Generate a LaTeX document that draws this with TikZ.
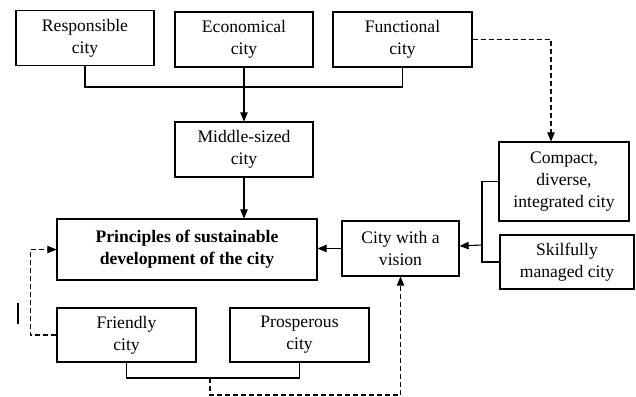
\documentclass[tikz,border=0pt]{standalone}
\usepackage{fontspec}
\setmainfont{Liberation Serif}
\usetikzlibrary{arrows}

\begin{document}
\begin{tikzpicture}[x=1pt,y=-1pt,line width=1.1pt,>=triangle 45]
\tikzstyle{every node}=[align=center, inner sep=1pt, font=\fontsize{17.6}{22}\selectfont]
\tikzstyle{box}=[draw, minimum width=138pt, minimum height=55pt]
\tikzstyle{dashline}=[dash pattern=on 5pt off 3pt]
\useasboundingbox (0,0) rectangle (636,396);
\draw (85,38) node (resp) [box] {Responsible\\city};
\draw (244,39.5) node (econ) [box] {Economical\\city};
\draw (402.5,39.5) node (func) [box,minimum width=139pt] {Functional\\city};
\draw (244,149.5) node (mid) [box] {Middle-sized\\city};
\draw (187,249.5) node (princ) [box,minimum width=260pt,minimum height=61pt] {\textbf{Principles of sustainable}\\\textbf{development of the city}};
\draw (400.5,248.5) node (vision) [box,minimum width=117pt] {City with a\\vision};
\draw (564,181.5) node (comp) [box,minimum width=130pt,minimum height=79pt] {Compact,\\diverse,\\integrated city};
\draw (567,262) node (skil) [box,minimum width=134pt,minimum height=54pt] {Skilfully\\managed city};
\draw (126.5,335) node (friend) [box,minimum width=139pt,minimum height=54pt] {Friendly\\city};
\draw (299.5,335) node (prosp) [box,minimum width=139pt,minimum height=54pt] {Prosperous\\city};
\coordinate (topbus) at (244,87);
\coordinate (rbus) at (482,245);
\coordinate (bbus) at (210,378);
\draw (resp) |- (topbus) -| (func);
\draw[->] (econ) -- (mid);
\draw[->] (mid) -- (mid |- princ.north);
\draw[->] (vision) -- (vision -| princ.east);
\draw (comp) -| (rbus) |- (skil);
\draw[->] (rbus) -- (vision);
\draw[dashline,->] (func) -| ([xshift=-13pt]comp.north);
\draw[dashline,->] (friend.west) -- ++(-26,0) |- (princ.west);
\draw (friend) |- (bbus) -| (prosp);
\draw[dashline,->] (bbus) -- ++(0,17) -| (vision);
\draw (18,303) -- (18,324);
\end{tikzpicture}
\end{document}
